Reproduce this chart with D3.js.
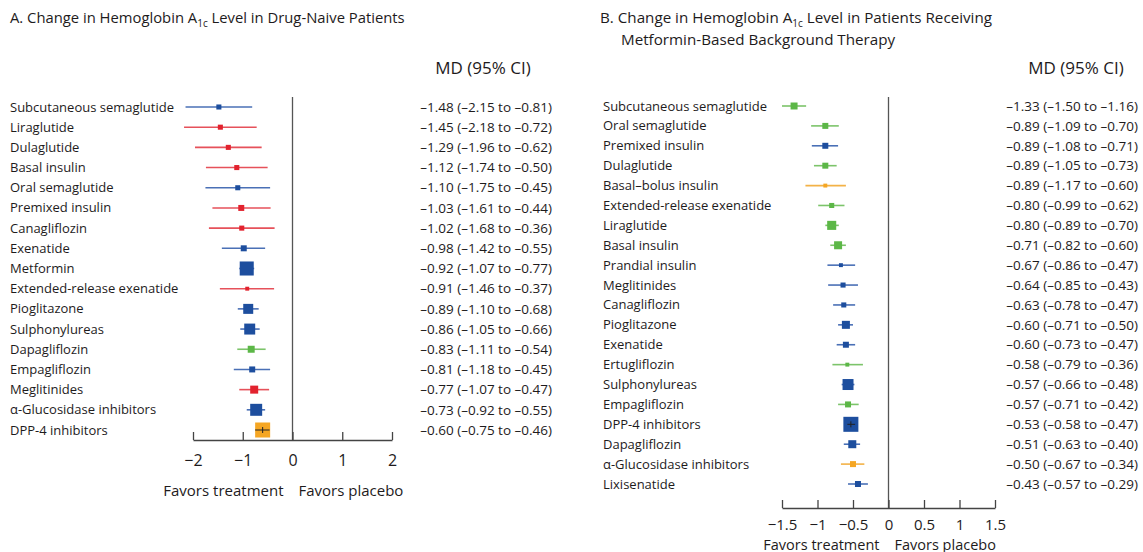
<!DOCTYPE html>
<html><head><meta charset="utf-8">
<script src="https://cdn.jsdelivr.net/npm/d3@7"></script>
<style>
body{margin:0;background:#fff}
svg{font-family:"Open Sans",sans-serif}
</style>
</head><body>
<svg id="c" width="1143" height="552"></svg>
<script>
// ---------- Panel A data ----------
const catsA = ["Subcutaneous semaglutide","Liraglutide","Dulaglutide","Basal insulin","Oral semaglutide","Premixed insulin","Canagliflozin","Exenatide","Metformin","Extended-release exenatide","Pioglitazone","Sulphonylureas","Dapagliflozin","Empagliflozin","Meglitinides","\u03b1-Glucosidase inhibitors","DPP-4 inhibitors"];
const mdA = [-1.48,-1.45,-1.29,-1.12,-1.10,-1.03,-1.02,-0.98,-0.92,-0.91,-0.89,-0.86,-0.83,-0.81,-0.77,-0.73,-0.60];
const loA = [-2.15,-2.18,-1.96,-1.74,-1.75,-1.61,-1.68,-1.42,-1.07,-1.46,-1.10,-1.05,-1.11,-1.18,-1.07,-0.92,-0.75];
const hiA = [-0.81,-0.72,-0.62,-0.50,-0.45,-0.44,-0.36,-0.55,-0.77,-0.37,-0.68,-0.66,-0.54,-0.45,-0.47,-0.55,-0.46];
const certA = ["H","VL","VL","VL","H","VL","VL","H","H","VL","H","H","M","H","VL","H","L"];
const weightA = [0.10,0.10,0.10,0.10,0.10,0.14,0.10,0.14,0.77,0.06,0.39,0.47,0.19,0.14,0.25,0.56,0.88];
const ticksA = [-2,-1,0,1,2];

// ---------- Panel B data ----------
const catsB = ["Subcutaneous semaglutide","Oral semaglutide","Premixed insulin","Dulaglutide","Basal\u2013bolus insulin","Extended-release exenatide","Liraglutide","Basal insulin","Prandial insulin","Meglitinides","Canagliflozin","Pioglitazone","Exenatide","Ertugliflozin","Sulphonylureas","Empagliflozin","DPP-4 inhibitors","Dapagliflozin","\u03b1-Glucosidase inhibitors","Lixisenatide"];
const mdB = [-1.33,-0.89,-0.89,-0.89,-0.89,-0.80,-0.80,-0.71,-0.67,-0.64,-0.63,-0.60,-0.60,-0.58,-0.57,-0.57,-0.53,-0.51,-0.50,-0.43];
const loB = [-1.50,-1.09,-1.08,-1.05,-1.17,-0.99,-0.89,-0.82,-0.86,-0.85,-0.78,-0.71,-0.73,-0.79,-0.66,-0.71,-0.58,-0.63,-0.67,-0.57];
const hiB = [-1.16,-0.70,-0.71,-0.73,-0.60,-0.62,-0.70,-0.60,-0.47,-0.43,-0.47,-0.50,-0.47,-0.36,-0.48,-0.42,-0.47,-0.40,-0.34,-0.29];
const certB = ["M","M","H","M","L","M","M","M","H","H","H","H","H","M","H","M","H","H","L","H"];
const weightB = [0.19,0.14,0.14,0.14,0.06,0.10,0.32,0.25,0.06,0.10,0.10,0.25,0.14,0.06,0.47,0.14,0.88,0.25,0.14,0.14];
const ticksB = [-1.5,-1,-0.5,0,0.5,1,1.5];

// ---------- styles ----------
const palette = {
  H:  {fill:"#1d4e9e", line:"#4a70b6"},
  M:  {fill:"#5cb747", line:"#7cc46a"},
  L:  {fill:"#f5a623", line:"#f3b247"},
  VL: {fill:"#e2222e", line:"#e6515a"}
};
const txt = "#1e1b1c";
const FW = 500;
const dash = "\u2013";
const f2 = v => (v < 0 ? dash : "") + Math.abs(v).toFixed(2);

const svg = d3.select("#c");

function drawPanel(o, cats, md, lo, hi, cert, weight, ticks) {
  const g = svg.append("g").attr("font-weight", FW);
  const x = d3.scaleLinear().domain(o.domain).range(o.xr);
  const y = d3.scalePoint().domain(cats).range(o.yr);
  const side = d3.scaleSqrt().domain([0,1]).range([0,16]);
  const rows = cats.map((c,i)=>({c, md:md[i], lo:lo[i], hi:hi[i], k:cert[i], w:weight[i]}));

  // title
  const t = g.append("text").attr("x", o.titleX).attr("y", o.titleY)
    .attr("font-size", o.titleSize).attr("fill", txt);
  t.append("tspan").text(o.title[0]);
  t.append("tspan").text("1c").attr("font-size", 10).attr("dy", 4);
  t.append("tspan").text(o.title[1]).attr("dy", -4);
  if (o.title2) {
    g.append("text").attr("x", o.titleX + 21).attr("y", o.titleY + 22)
      .attr("font-size", o.titleSize).attr("fill", txt).text(o.title2);
  }
  g.append("text").attr("x", o.mdX).attr("y", o.mdY).attr("text-anchor","middle")
    .attr("font-size", 17).attr("fill", txt).text("MD (95% CI)");

  // zero line
  g.append("line").attr("x1", x(0)).attr("x2", x(0)).attr("y1", o.zeroTop).attr("y2", o.axisY)
    .attr("stroke", "#555").attr("stroke-width", 1.3);

  // axis
  const ax = g.append("g").attr("transform", `translate(0,${o.axisY})`)
    .call(d3.axisBottom(x).tickValues(ticks).tickFormat(d3.format("~g"))
      .tickSizeInner(-8).tickSizeOuter(0).tickPadding(o.tickPad));
  ax.select(".domain").attr("stroke", "#444").attr("stroke-width", 1.3);
  ax.selectAll(".tick line").attr("stroke", "#444").attr("stroke-width", 1.3);
  ax.selectAll(".tick text").attr("font-size", o.tickSize).attr("fill", txt)
    .attr("font-family", "Open Sans, sans-serif").attr("font-weight", FW);

  g.append("text").attr("x", x(0) - 9).attr("y", o.favY).attr("text-anchor","end")
    .attr("font-size", o.favSize).attr("fill", txt).text("Favors treatment");
  g.append("text").attr("x", x(0) + 6).attr("y", o.favY).attr("text-anchor","start")
    .attr("font-size", o.favSize).attr("fill", txt).text("Favors placebo");

  // labels
  g.selectAll(".lab").data(rows).join("text")
    .attr("x", o.labX).attr("y", d=>y(d.c)).attr("dy","0.35em")
    .attr("font-size", 13).attr("fill", txt).text(d=>d.c);

  // values
  g.selectAll(".val").data(rows).join("text")
    .attr("x", o.valX).attr("y", d=>y(d.c)).attr("dy","0.35em").attr("text-anchor","end")
    .attr("font-size", 13.5).attr("fill", txt)
    .text(d=>`${f2(d.md)} (${f2(d.lo)} to ${f2(d.hi)})`);

  // CI lines
  g.selectAll(".ci").data(rows).join("line")
    .attr("x1", d=>x(d.lo)).attr("x2", d=>x(d.hi)).attr("y1", d=>y(d.c)).attr("y2", d=>y(d.c))
    .attr("stroke", d=>palette[d.k].line).attr("stroke-width", 1.6);

  // squares
  g.selectAll(".sq").data(rows).join("rect")
    .attr("x", d=>x(d.md) - side(d.w)/2).attr("y", d=>y(d.c) - side(d.w)/2)
    .attr("width", d=>side(d.w)).attr("height", d=>side(d.w))
    .attr("fill", d=>palette[d.k].fill);

  // dark CI overlay when the CI lies within the square
  const inner = rows.filter(d => side(d.w) >= (x(d.hi) - x(d.lo)));
  g.selectAll(".ov").data(inner).join("line")
    .attr("x1", d=>x(d.lo)).attr("x2", d=>x(d.hi)).attr("y1", d=>y(d.c)).attr("y2", d=>y(d.c))
    .attr("stroke", "#222").attr("stroke-width", 1);
  g.selectAll(".ov2").data(inner).join("line")
    .attr("x1", d=>x(d.md)).attr("x2", d=>x(d.md)).attr("y1", d=>y(d.c)-3).attr("y2", d=>y(d.c)+3)
    .attr("stroke", "#222").attr("stroke-width", 1);
}

drawPanel({
  domain:[-2,2], xr:[193,392], yr:[107,430], axisY:440, zeroTop:97,
  title:["A. Change in Hemoglobin A"," Level in Drug-Naive Patients"], titleX:10, titleY:23, titleSize:14.8,
  mdX:483, mdY:74, labX:10, valX:552, favY:496, favSize:15, tickSize:16, tickPad:15
}, catsA, mdA, loA, hiA, certA, weightA, ticksA);

drawPanel({
  domain:[-1.5,1.5], xr:[782,995], yr:[106,484], axisY:508, zeroTop:97,
  title:["B. Change in Hemoglobin A"," Level in Patients Receiving"], title2:"Metformin-Based Background Therapy",
  titleX:600, titleY:23, titleSize:15.2,
  mdX:1076, mdY:74, labX:603, valX:1138, favY:549.5, favSize:14.5, tickSize:15, tickPad:11
}, catsB, mdB, loB, hiB, certB, weightB, ticksB);
</script>
</body></html>
